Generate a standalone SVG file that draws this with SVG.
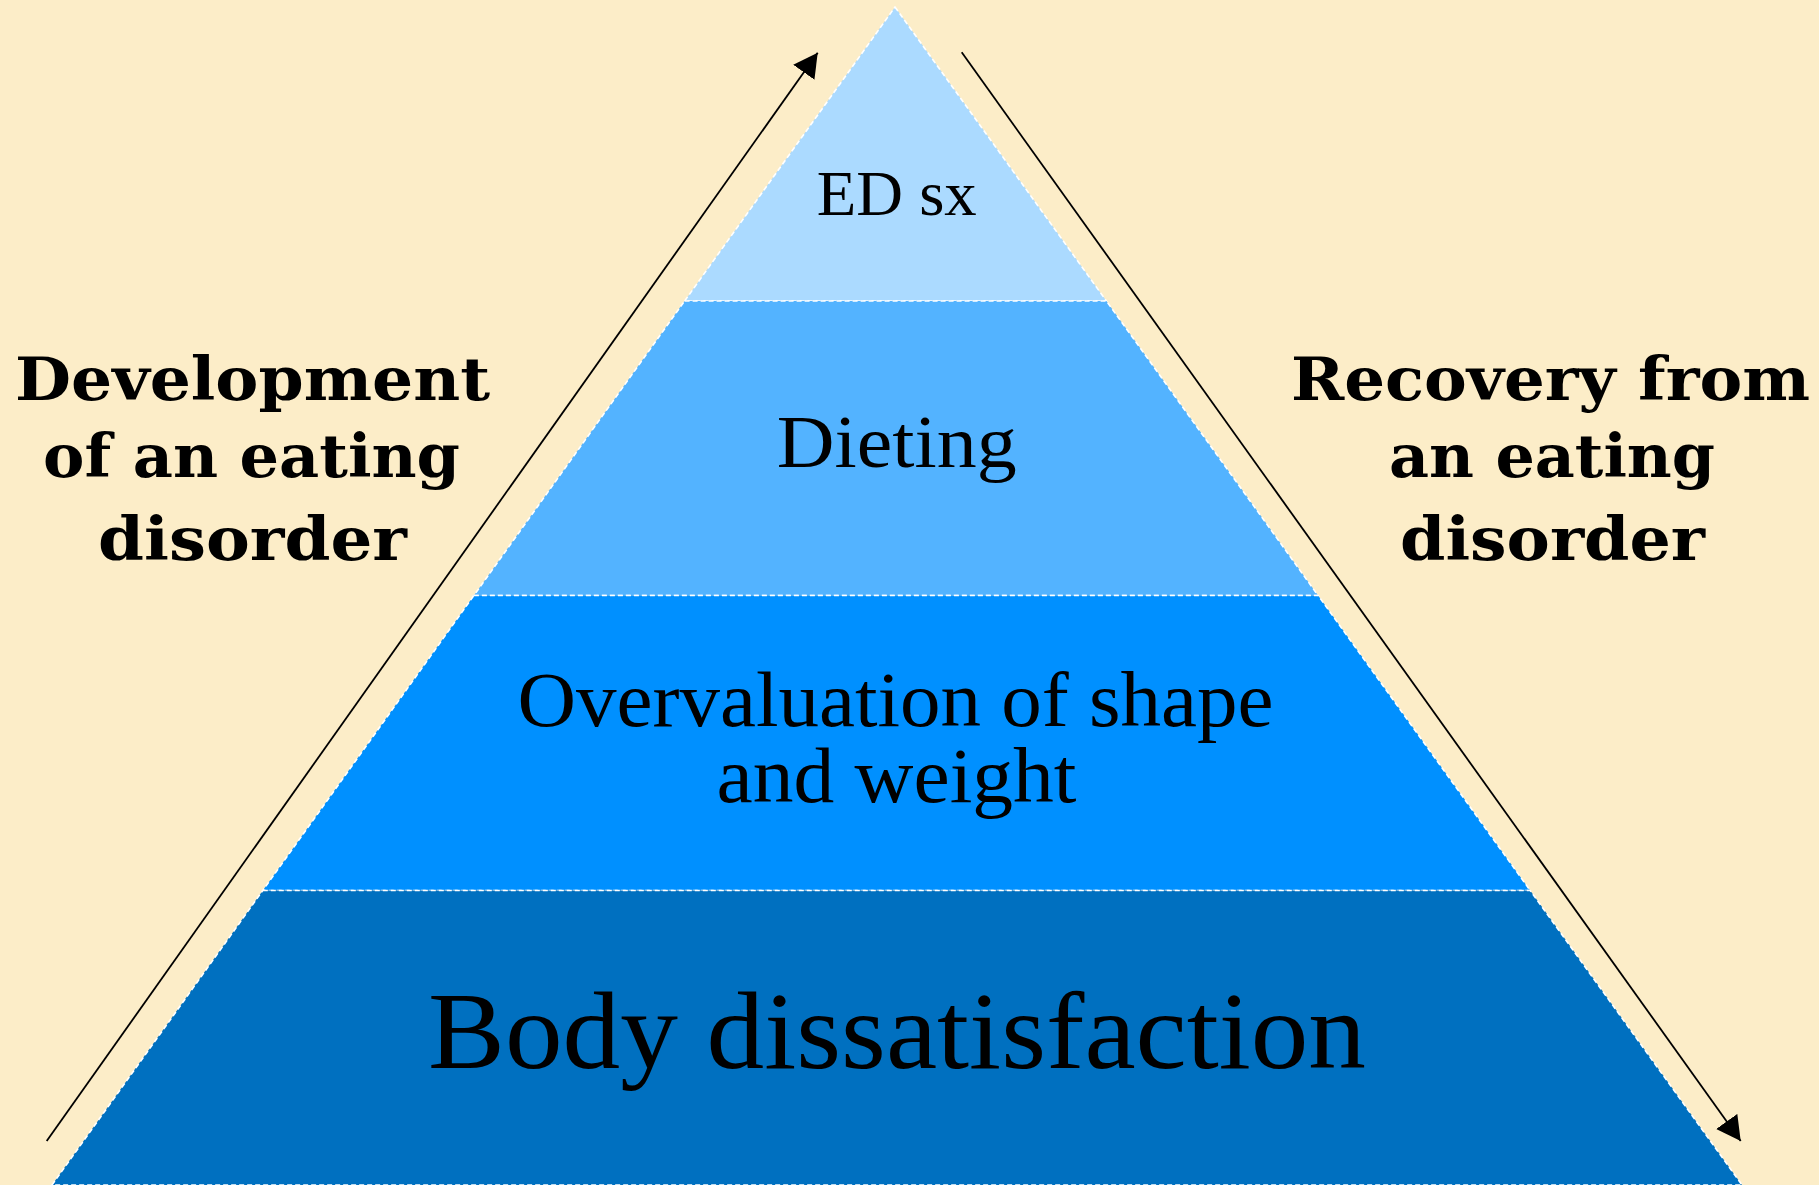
<svg xmlns="http://www.w3.org/2000/svg" width="1819" height="1185" viewBox="0 0 1819 1185">
<style>
.band{stroke:#ffffff;stroke-width:1.6;stroke-dasharray:5 3}
.lbl{font-family:"Liberation Serif","Times New Roman",serif;fill:#000;text-anchor:middle}
.side{font-family:"DejaVu Serif","Liberation Serif",serif;font-weight:bold;font-size:60px;fill:#000;text-anchor:middle}
.conn{stroke:#000;stroke-width:1.8;fill:none}
</style>
<defs>
<marker id="ah" markerUnits="userSpaceOnUse" markerWidth="30" markerHeight="30" refX="24" refY="13" orient="auto">
<path d="M0,0 L24,13 L0,26 Z" fill="#000"/>
</marker>
</defs>
<rect width="1819" height="1185" fill="#FCEDC8"/>
<g id="band-ed-sx">
<polygon class="band" fill="#ABDAFF" points="895,7 1106.4,301 684.6,301"/>
<text class="lbl" x="896.7" y="215" font-size="63" textLength="160" lengthAdjust="spacingAndGlyphs">ED sx</text>
</g>
<g id="band-dieting">
<polygon class="band" fill="#53B3FF" points="684.6,301 1106.4,301 1318.1,595.5 473.9,595.5"/>
<text class="lbl" x="896.7" y="466.7" font-size="73" textLength="240" lengthAdjust="spacingAndGlyphs">Dieting</text>
</g>
<g id="band-overvaluation">
<polygon class="band" fill="#0090FF" points="473.9,595.5 1318.1,595.5 1530.2,890.5 262.8,890.5"/>
<text class="lbl" x="895.5" y="725.7" font-size="78" textLength="756" lengthAdjust="spacingAndGlyphs">Overvaluation of shape</text>
<text class="lbl" x="896.5" y="801.7" font-size="78" textLength="360" lengthAdjust="spacingAndGlyphs">and weight</text>
</g>
<g id="band-body">
<polygon class="band" fill="#0070C0" points="262.8,890.5 1530.2,890.5 1742,1185 52,1185"/>
<text class="lbl" x="897" y="1068.3" font-size="110" textLength="938" lengthAdjust="spacingAndGlyphs">Body dissatisfaction</text>
</g>
<g id="label-development">
<text class="side" x="252.5" y="400" textLength="475" lengthAdjust="spacingAndGlyphs">Development</text>
<text class="side" x="251.5" y="477" textLength="417" lengthAdjust="spacingAndGlyphs">of an eating</text>
<text class="side" x="252.5" y="560" textLength="309" lengthAdjust="spacingAndGlyphs">disorder</text>
</g>
<g id="label-recovery">
<text class="side" x="1550.5" y="400" textLength="519" lengthAdjust="spacingAndGlyphs">Recovery from</text>
<text class="side" x="1552" y="477" textLength="326" lengthAdjust="spacingAndGlyphs">an eating</text>
<text class="side" x="1552.5" y="560" textLength="305" lengthAdjust="spacingAndGlyphs">disorder</text>
</g>
<g id="connectors">
<line class="conn" x1="46.7" y1="1141" x2="817.7" y2="52.7" marker-end="url(#ah)"/>
<line class="conn" x1="961.7" y1="52.3" x2="1740.7" y2="1141" marker-end="url(#ah)"/>
</g>
</svg>
